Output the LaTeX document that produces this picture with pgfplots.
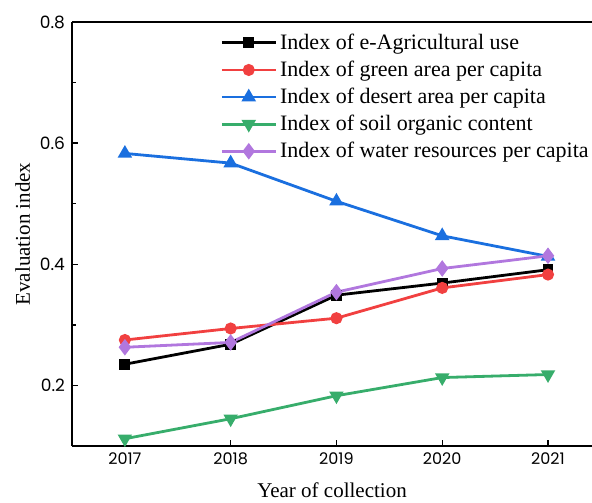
\documentclass[border=0pt]{standalone}
\usepackage{pgfplots}
\pgfplotsset{compat=1.18}
\usepackage{fontspec}
\setmainfont{Liberation Serif}
\newfontfamily\tickfont{Poppins}
\definecolor{cblack}{HTML}{000000}
\definecolor{cred}{HTML}{F14040}
\definecolor{cblue}{HTML}{1A6FDF}
\definecolor{cgreen}{HTML}{37AD6B}
\definecolor{cpurple}{HTML}{B177DE}
\begin{document}
\begin{tikzpicture}
\begin{axis}[
  name=ax,
  scale only axis,
  width=260pt, height=212pt,
  xmin=2016.5, xmax=2021.416,
  ymin=0.1, ymax=0.8,
  axis x line*=box,
  axis y line*=left,
  axis line style={line width=0.9pt},
  x axis line style={-},
  y axis line style={-},
  xtick={2017,2018,2019,2020,2021},
  ytick={0.2,0.4,0.6,0.8},
  minor y tick num=1,
  xtick pos=bottom,
  ytick pos=left,
  tick align=inside,
  major tick length=3pt,
  minor tick length=2pt,
  every tick/.style={line width=0.7pt, black},
  /pgf/number format/assume math mode=true,
  xticklabel style={/pgf/number format/1000 sep={}, font=\tickfont\fontsize{8}{9}\selectfont},
  yticklabel style={/pgf/number format/fixed, /pgf/number format/precision=1, /pgf/number format/fixed zerofill, font=\tickfont\fontsize{8.5}{10}\selectfont},
  xlabel={Year of collection},
  ylabel={Evaluation index},
  xlabel style={yshift=-2pt},
  ylabel style={yshift=-2pt},
  label style={font=\fontsize{10.5}{12}\selectfont},
  clip=false,
  legend style={at={(0.273,0.99)}, anchor=north west, draw=none, fill=none,
    font=\fontsize{11}{12}\selectfont, row sep=1.3pt, nodes={inner sep=1.5pt}},
  legend cell align=left,
  legend image code/.code={\draw[mark repeat=2,mark phase=2] plot coordinates {(0pt,0pt) (13.5pt,0pt) (27pt,0pt)};},
  every axis plot/.append style={line width=1.4pt},
]
\addplot[cblack, mark=square*, mark size=2pt, mark options={solid}] coordinates {(2017,0.235) (2018,0.268) (2019,0.349) (2020,0.369) (2021,0.391)};
\addlegendentry{Index of e-Agricultural use}
\addplot[cred, mark=*, mark size=2.3pt] coordinates {(2017,0.275) (2018,0.294) (2019,0.311) (2020,0.361) (2021,0.383)};
\addlegendentry{Index of green area per capita}
\addplot[cblue, mark=triangle*, mark size=2.8pt] coordinates {(2017,0.583) (2018,0.567) (2019,0.504) (2020,0.447) (2021,0.413)};
\addlegendentry{Index of desert area per capita}
\addplot[cgreen, mark=triangle*, mark size=2.8pt, mark options={rotate=180}] coordinates {(2017,0.112) (2018,0.145) (2019,0.183) (2020,0.213) (2021,0.218)};
\addlegendentry{Index of soil organic content}
\addplot[cpurple, mark=diamond*, mark size=3pt] coordinates {(2017,0.263) (2018,0.271) (2019,0.354) (2020,0.393) (2021,0.414)};
\addlegendentry{Index of water resources per capita}
\end{axis}
\pgfresetboundingbox
\path[use as bounding box] ([xshift=-36pt,yshift=-28pt]ax.south west) rectangle ([yshift=11pt]ax.north east);
\end{tikzpicture}
\end{document}
